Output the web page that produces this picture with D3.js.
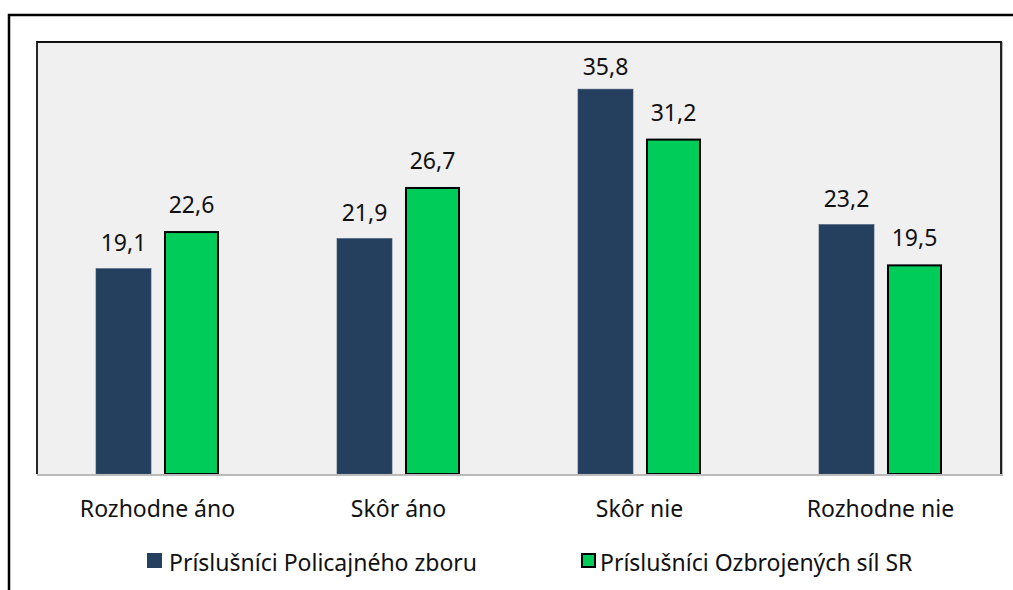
<!DOCTYPE html>
<html><head><meta charset="utf-8">
<script src="https://cdn.jsdelivr.net/npm/d3@7"></script>
<style>body{margin:0;background:#fff}svg{display:block}text{font-family:"Noto Sans","Liberation Sans",Arial,sans-serif;fill:#111}</style>
</head><body><svg id="c" width="1013" height="590"></svg>
<script>
const categories = ["Rozhodne áno","Skôr áno","Skôr nie","Rozhodne nie"];
const seriesNames = ["Príslušníci Policajného zboru","Príslušníci Ozbrojených síl SR"];
const police = [19.1, 21.9, 35.8, 23.2];
const army = [22.6, 26.7, 31.2, 19.5];
const yTicks = [0, 40];

const FS = 23;
const svg = d3.select("#c");
const plot = {l:37, t:42, r:1001, b:474};
svg.append("path").attr("d","M9,590 V15 H1013").attr("fill","none").attr("stroke","#000").attr("stroke-width",2.5);
svg.append("rect").attr("x",plot.l+1).attr("y",plot.t+1).attr("width",plot.r-plot.l).attr("height",plot.b-plot.t)
  .attr("fill","none").attr("stroke","#bbb").attr("stroke-width",2);
svg.append("rect").attr("x",plot.l).attr("y",plot.t).attr("width",plot.r-plot.l).attr("height",plot.b-plot.t)
  .attr("fill","#f0f0f0");
svg.append("path").attr("d",`M${plot.l},${plot.b} V${plot.t} H${plot.r} V${plot.b}`).attr("fill","none").attr("stroke","#111").attr("stroke-width",1.8);

const x = d3.scaleBand().domain(categories).range([plot.l, plot.r]);
const y = d3.scaleLinear().domain(d3.extent(yTicks)).range([plot.b, 44]);
const sub = d3.scaleBand().domain(seriesNames).range([-61.5, 61.5]).paddingInner(0.191);

const data = [police, army];
const colors = ["#253f5f","#00cc5a"];
data.forEach((vals, si) => {
  const g = svg.append("g");
  g.selectAll("rect").data(vals).join("rect")
    .attr("x",(d,i)=>x(categories[i])+x.bandwidth()/2+sub(seriesNames[si]) + (si?1:0))
    .attr("y",d=>y(d)+(si?1:0))
    .attr("width",sub.bandwidth()-(si?2:0))
    .attr("height",d=>plot.b-y(d)-(si?1:0))
    .attr("fill",colors[si])
    .attr("stroke",si?"#000":"#3a5272").attr("stroke-width",si?2:0.6);
  g.selectAll("text").data(vals).join("text")
    .attr("x",(d,i)=>x(categories[i])+x.bandwidth()/2+sub(seriesNames[si])+sub.bandwidth()/2)
    .attr("y",d=>Math.max(y(d)-18, 75))
    .attr("text-anchor","middle").attr("font-size",FS)
    .text(d=>d.toFixed(1).replace(".",","));
});
svg.append("line").attr("x1",plot.l).attr("x2",plot.r).attr("y1",plot.b+1).attr("y2",plot.b+1).attr("stroke","#bbb").attr("stroke-width",2);

const xAxis = d3.axisBottom(x).tickSize(0).tickPadding(0);
const ax = svg.append("g").attr("transform",`translate(0,${plot.b})`).call(xAxis);
ax.select(".domain").remove();
ax.selectAll("text").attr("font-size",FS).attr("dy",0).attr("y",43).attr("font-family","Noto Sans, Liberation Sans, Arial, sans-serif").attr("fill","#111");

const leg = [{x:147, tx:169},{x:581, tx:600}];
seriesNames.forEach((n,i)=>{
  svg.append("rect").attr("x",leg[i].x+(i?1:0)).attr("y",553+(i?1:0)).attr("width",15-(i?2:0)).attr("height",15-(i?2:0))
    .attr("fill",colors[i]).attr("stroke",i?"#000":"none").attr("stroke-width",2);
  svg.append("text").attr("x",leg[i].tx).attr("y",571).attr("font-size",FS).text(n);
});
</script></body></html>
